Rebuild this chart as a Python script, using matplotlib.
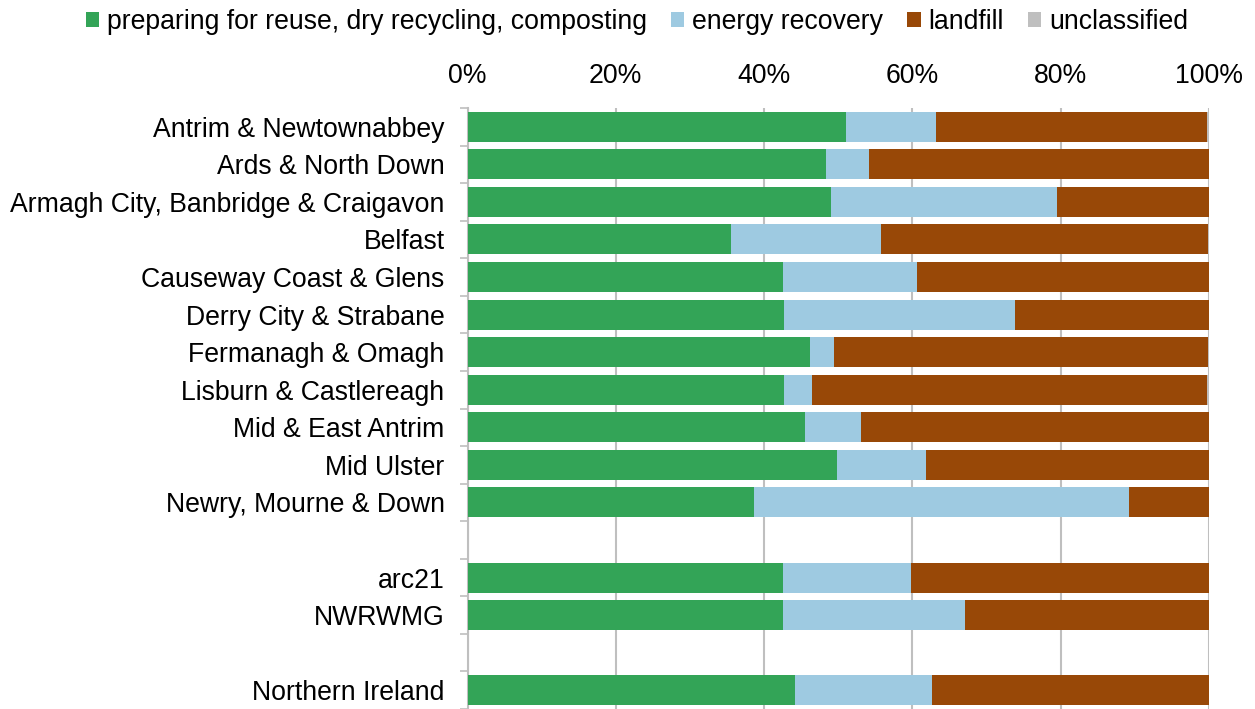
import matplotlib
matplotlib.use("Agg")
import matplotlib.pyplot as plt
import numpy as np
from matplotlib.patches import Patch

plt.rcParams['font.family'] = ['Liberation Sans', 'DejaVu Sans']

categories = ["Antrim & Newtownabbey", "Ards & North Down", "Armagh City, Banbridge & Craigavon",
              "Belfast", "Causeway Coast & Glens", "Derry City & Strabane", "Fermanagh & Omagh",
              "Lisburn & Castlereagh", "Mid & East Antrim", "Mid Ulster", "Newry, Mourne & Down",
              "arc21", "NWRWMG", "Northern Ireland"]
recycling = [51.1, 48.3, 49.0, 35.5, 42.5, 42.7, 46.2, 42.7, 45.5, 49.8, 38.6, 42.6, 42.6, 44.1]
energy    = [12.1, 5.8, 30.5, 20.3, 18.1, 31.2, 3.2, 3.8, 7.6, 12.0, 50.6, 17.2, 24.5, 18.5]
landfill  = [36.5, 45.9, 20.5, 44.1, 39.4, 26.1, 50.4, 53.2, 46.9, 38.2, 10.8, 40.2, 32.9, 37.4]
unclass   = [0.3, 0.0, 0.0, 0.1, 0.0, 0.0, 0.2, 0.3, 0.0, 0.0, 0.0, 0.0, 0.0, 0.0]
series_names = ["preparing for reuse, dry recycling, composting", "energy recovery", "landfill", "unclassified"]
colors = ["#33A457", "#9ECAE1", "#984807", "#BFBFBF"]
xticks = [0, 20, 40, 60, 80, 100]
xticklabels = ["0%", "20%", "40%", "60%", "80%", "100%"]

# group layout: 11 councils, gap, 2 groups, gap, total
group_sizes = [11, 2, 1]
pos = []
p = 0
for g in group_sizes:
    for _ in range(g):
        pos.append(p)
        p += 1
    p += 1
nslots = p - 1

fig = plt.figure(figsize=(12.55, 7.09), dpi=100)
ax = fig.add_axes([467.5/1255, 0.0, (1209-467.5)/1255, 1 - 108/709])

left = np.zeros(len(categories))
for vals, c in zip([recycling, energy, landfill, unclass], colors):
    ax.barh(pos, vals, left=left, height=0.8, color=c, edgecolor='none', zorder=3)
    left += np.array(vals)

ax.set_xlim(0, 100)
ax.set_ylim(nslots - 0.5, -0.5)
ax.xaxis.tick_top()
ax.set_xticks(xticks)
ax.set_xticklabels(xticklabels, fontsize=19.2)
ax.tick_params(axis='x', length=0, pad=14)
ax.grid(axis='x', color='#BFBFBF', linewidth=1.5, zorder=0)

ax.set_yticks(pos)
ax.set_yticklabels(categories, fontsize=19.2)
ax.tick_params(axis='y', which='major', length=0, pad=16.5)
ax.set_yticks(np.arange(-0.5, nslots, 1.0), minor=True)
ax.tick_params(axis='y', which='minor', length=6, width=1.2, color='#BFBFBF')

for s in ['top', 'right', 'bottom']:
    ax.spines[s].set_visible(False)
ax.spines['left'].set_color('#BFBFBF')
ax.spines['left'].set_linewidth(1.5)

handles = [Patch(facecolor=c, edgecolor='none') for c in colors]
fig.legend(handles, series_names, loc='center', bbox_to_anchor=(637/1255, 1 - 22/709),
           ncol=4, frameon=False, fontsize=19.2, handlelength=0.5, handleheight=0.5,
           handletextpad=0.3, columnspacing=0.9, borderaxespad=0)

fig.savefig("out.png", dpi=100)
